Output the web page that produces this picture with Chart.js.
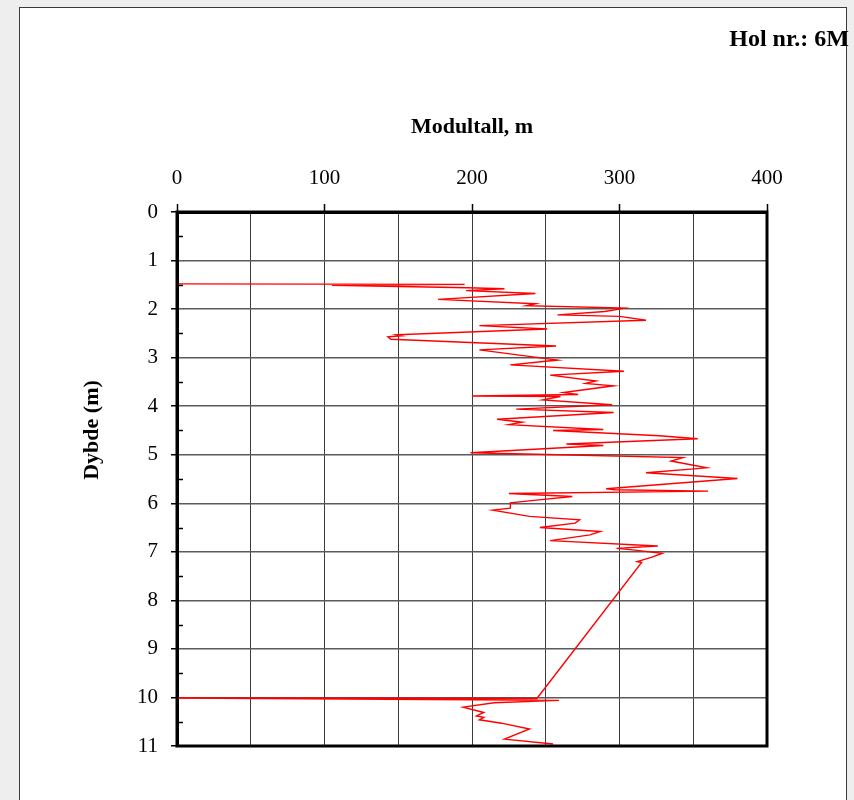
<!DOCTYPE html>
<html>
<head>
<meta charset="utf-8">
<script src="https://cdn.jsdelivr.net/npm/chart.js@4.4.1/dist/chart.umd.min.js"></script>
<style>
  html, body { margin: 0; padding: 0; background: #eeeeee; }
  #sheet {
    position: absolute; left: 19px; top: 7px; width: 826px; height: 900px;
    background: #ffffff; border: 1.5px solid #3a3a3a;
  }
  #wrap { position: absolute; left: 0; top: 0; width: 854px; height: 800px; }
</style>
</head>
<body>
<div id="sheet"></div>
<div id="wrap"><canvas id="c" width="854" height="800"></canvas></div>
<script>
// Sounding profile, hole 6M: depth (m) and modulus number
const depths = [
  1.48, 1.49, 1.51, 1.56, 1.58, 1.62, 1.68, 1.80, 1.89, 1.93, 1.98, 2.00,
  2.05, 2.12, 2.15, 2.23, 2.34, 2.41, 2.53, 2.55, 2.57, 2.62, 2.76, 2.84,
  3.05, 3.15, 3.28, 3.36, 3.48, 3.53, 3.58, 3.72, 3.76, 3.79, 3.80, 3.87,
  3.97, 4.06, 4.13, 4.27, 4.33, 4.38, 4.48, 4.50, 4.61, 4.67, 4.78, 4.81,
  4.96, 5.06, 5.13, 5.27, 5.37, 5.49, 5.70, 5.72, 5.75, 5.80, 5.86, 5.94,
  5.99, 6.10, 6.14, 6.27, 6.34, 6.41, 6.50, 6.58, 6.65, 6.77, 6.88, 6.93,
  6.96, 7.03, 7.11, 7.20, 7.22,
  10.02, 10.01, 10.06, 10.11, 10.20, 10.31, 10.38, 10.41, 10.46, 10.53,
  10.65, 10.86, 10.96
];
const modulus = [
  0, 195, 105, 197, 222, 196, 243, 177, 243, 237, 303, 300,
  290, 258, 300, 318, 205, 251, 149, 152, 143, 145, 257, 205,
  258, 226, 303, 253, 284, 277, 296, 262, 272, 200, 260, 248,
  295, 230, 296, 217, 234, 225, 289, 255, 327, 353, 264, 289,
  199, 343, 335, 359, 318, 380, 291, 297, 360, 225, 268, 242,
  226, 226, 214, 239, 273, 270, 246, 287, 280, 253, 326, 298,
  309, 329, 322, 312, 315,
  244, 0, 259, 215, 194, 208, 203, 208, 205, 220,
  239, 222, 255
];
const xTickLabels = [0, 100, 200, 300, 400];
const minorTickDepths = [0.5, 1.5, 2.5, 3.5, 4.5, 5.5, 6.5, 7.5, 8.5, 9.5, 10.5];
const xTitle = 'Modultall, m';
const yTitle = 'Dybde (m)';
const holeLabel = 'Hol nr.: 6M';

const serif = '"Liberation Serif", "Times New Roman", serif';

const profile = depths.map((d, i) => ({ x: modulus[i], y: d }));

// Frame round the plot, short inward ticks at half metres and the free labels
const decorations = {
  id: 'decorations',
  afterDatasetsDraw(chart) {
    const { ctx, chartArea: a, scales: { y } } = chart;
    ctx.save();
    ctx.strokeStyle = '#000';
    ctx.lineWidth = 1.5;
    minorTickDepths.forEach(v => {
      const py = Math.round(y.getPixelForValue(v)) + 0.5;
      ctx.beginPath();
      ctx.moveTo(a.left, py);
      ctx.lineTo(a.left + 6, py);
      ctx.stroke();
    });
    ctx.lineWidth = 3;
    ctx.strokeRect(a.left, a.top, a.right - a.left, a.bottom - a.top);
    ctx.restore();
  },
  afterDraw(chart) {
    const { ctx } = chart;
    ctx.save();
    ctx.fillStyle = '#000';
    ctx.font = 'bold 24px ' + serif;
    ctx.textAlign = 'right';
    ctx.textBaseline = 'middle';
    ctx.fillText(holeLabel, 849, 40);
    ctx.font = 'bold 22px ' + serif;
    ctx.translate(92, 430);
    ctx.rotate(-Math.PI / 2);
    ctx.textAlign = 'center';
    ctx.fillText(yTitle, 0, 0);
    ctx.restore();
  }
};

new Chart(document.getElementById('c'), {
  type: 'scatter',
  data: {
    datasets: [{
      data: profile,
      showLine: true,
      borderColor: '#ff0000',
      borderWidth: 1.4,
      pointRadius: 0,
      pointHoverRadius: 0,
      tension: 0,
      fill: false
    }]
  },
  options: {
    responsive: false,
    devicePixelRatio: 1,
    animation: false,
    layout: { padding: { left: 0, top: 0, right: 87, bottom: 54 } },
    plugins: { legend: { display: false }, tooltip: { enabled: false } },
    scales: {
      x: {
        type: 'linear',
        position: 'top',
        min: 0,
        max: 400,
        afterFit(scale) { scale.height = 212; },
        ticks: {
          stepSize: 50,
          autoSkip: false,
          maxRotation: 0,
          padding: 13,
          color: '#000',
          font: { family: serif, size: 21 },
          callback: v => (xTickLabels.includes(v) ? String(v) : '')
        },
        grid: {
          color: '#3c3c3c',
          lineWidth: 1,
          tickLength: 8,
          tickWidth: 1.5,
          tickColor: ctx => (ctx.tick && xTickLabels.includes(ctx.tick.value) ? '#000' : 'rgba(0,0,0,0)')
        },
        border: { display: true, color: '#000', width: 3 },
        title: {
          display: true,
          text: xTitle,
          color: '#000',
          font: { family: serif, size: 22, weight: 'bold' },
          padding: { top: 114, bottom: 0 }
        }
      },
      y: {
        type: 'linear',
        reverse: true,
        min: 0,
        max: 11,
        afterFit(scale) { scale.width = 177; },
        ticks: {
          stepSize: 1,
          autoSkip: false,
          padding: 13,
          color: '#000',
          font: { family: serif, size: 21 }
        },
        grid: {
          color: '#5a5a5a',
          lineWidth: 1.5,
          tickLength: 6,
          tickWidth: 1.5,
          tickColor: '#000'
        },
        border: { display: true, color: '#000', width: 3 }
      }
    }
  },
  plugins: [decorations]
});
</script>
</body>
</html>
